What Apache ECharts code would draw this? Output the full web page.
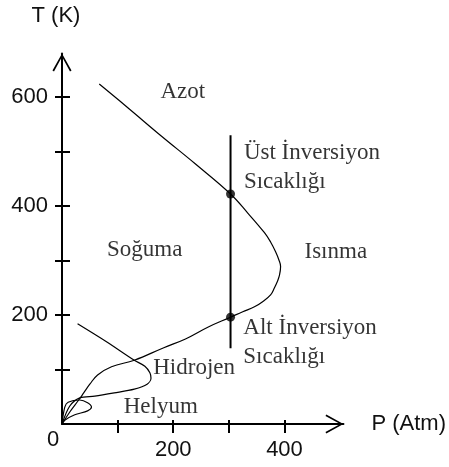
<!DOCTYPE html>
<html>
<head>
<meta charset="utf-8">
<script src="https://cdn.jsdelivr.net/npm/echarts@6/dist/echarts.min.js"></script>
<style>
  html, body { margin: 0; padding: 0; background: #fff; }
  #chart { width: 449px; height: 467px; }
</style>
</head>
<body>
<div id="chart"></div>
<script>
// Joule-Thomson inversion curves: pressure P (Atm) against temperature T (K)

// Nitrogen (Azot)
const nitrogenP = [67, 121, 179, 240, 303, 334, 364, 375, 384, 390, 393, 391, 387, 382, 375, 360, 346, 325, 303, 263, 222, 183, 130, 89, 64, 50, 39, 30, 14, 0];
const nitrogenT = [624, 578, 528, 477, 422, 387, 351, 334, 316, 301, 289, 273, 261, 250, 237, 224, 215, 206, 196, 178, 156, 140, 117, 105, 90, 73, 57, 44, 22, 0];

// Hydrogen (Hidrojen)
const hydrogenP = [28, 80, 130, 149, 158, 160, 153, 130, 94, 59, 32, 14, 0];
const hydrogenT = [184, 151, 117, 106, 94, 84, 73, 64, 57, 51, 48, 33, 0];

// Helium (Helyum)
const heliumP = [0, 5, 11, 32, 46, 53, 46, 23, 5, 0];
const heliumT = [0, 31, 40, 44, 39, 31, 24, 17, 7, 0];

// Isobar at constant pressure and its two inversion temperatures on the nitrogen curve
const isobarP = [303, 303];
const isobarT = [139, 530];
const inversionP = [303, 303];
const inversionT = [422, 196];

// Axis ranges and ticks
const pMax = 506;
const tMax = 680;
const pTicks = [100, 200, 300, 400];
const pLabels = [0, 200, 400];
const tTicks = [100, 200, 300, 400, 500, 600];
const tLabels = [200, 400, 600];

// Region and curve names, anchored in data space (P, T)
const noteText = ['Azot', 'Soğuma', 'Isınma', 'Üst İnversiyon\nSıcaklığı', 'Alt İnversiyon\nSıcaklığı', 'Hidrojen', 'Helyum'];
const noteP = [177, 81, 436, 327, 326, 164, 111];
const noteT = [609, 319, 316, 471, 150, 103, 31];

const zip = (xs, ys) => xs.map((x, i) => [x, ys[i]]);

const sans = 'Liberation Sans';
const serif = 'Liberation Serif';
const ink = '#111';
// open chevron arrow head, pointing up before the axis rotates it
const chevron = 'path://M0,18 L10,0 L20,18 L18.4,18.9 L10,3.4 L1.6,18.9 Z';

const curveLine = { color: '#000', width: 1.2 };

const chart = echarts.init(document.getElementById('chart'), null, { renderer: 'canvas' });

chart.setOption({
  animation: false,
  backgroundColor: '#fff',
  grid: { left: 62, right: 102, top: 53.4, bottom: 43, containLabel: false },
  xAxis: [
    {
      type: 'value', min: 0, max: pMax, position: 'bottom',
      axisLine: {
        show: true, onZero: false,
        symbol: ['none', chevron], symbolSize: [20, 18], symbolOffset: [0, -9],
        lineStyle: { color: '#000', width: 2 }
      },
      axisTick: { show: true, customValues: pTicks, length: 9, lineStyle: { color: '#000', width: 2 } },
      axisLabel: {
        customValues: pLabels, margin: 26, verticalAlign: 'middle',
        fontFamily: sans, fontSize: 22, color: ink,
        formatter: v => (v === 0 ? '{o|0}' : String(v)),
        rich: { o: { fontFamily: sans, fontSize: 22, color: ink, padding: [0, 18, 20, 0] } }
      },
      splitLine: { show: false },
      name: 'P (Atm)', nameLocation: 'end', nameGap: 28,
      nameTextStyle: { fontFamily: sans, fontSize: 22, color: ink }
    },
    {
      type: 'value', min: 0, max: pMax, position: 'bottom',
      axisLine: { show: false, onZero: false },
      axisTick: { show: true, inside: true, customValues: pTicks, length: 4, lineStyle: { color: '#000', width: 2 } },
      axisLabel: { show: false },
      splitLine: { show: false }
    }
  ],
  yAxis: [
    {
      type: 'value', min: 0, max: tMax, position: 'left',
      axisLine: {
        show: true, onZero: false,
        symbol: ['none', chevron], symbolSize: [20, 18], symbolOffset: [0, -9],
        lineStyle: { color: '#000', width: 2 }
      },
      axisTick: { show: true, customValues: tTicks, length: 7, lineStyle: { color: '#000', width: 2 } },
      axisLabel: { customValues: tLabels, margin: 14, fontFamily: sans, fontSize: 22, color: ink },
      splitLine: { show: false },
      name: 'T (K)', nameLocation: 'end', nameGap: 26,
      nameTextStyle: { fontFamily: sans, fontSize: 22, color: ink, padding: [0, 12, 0, 0] }
    },
    {
      type: 'value', min: 0, max: tMax, position: 'left',
      axisLine: { show: false, onZero: false },
      axisTick: { show: true, inside: true, customValues: tTicks, length: 8, lineStyle: { color: '#000', width: 2 } },
      axisLabel: { show: false },
      splitLine: { show: false }
    }
  ],
  series: [
    {
      name: 'Azot', type: 'line', data: zip(nitrogenP, nitrogenT),
      smooth: 0.4, showSymbol: false, lineStyle: curveLine, silent: true
    },
    {
      name: 'Hidrojen', type: 'line', data: zip(hydrogenP, hydrogenT),
      smooth: 0.3, showSymbol: false, lineStyle: curveLine, silent: true
    },
    {
      name: 'Helyum', type: 'line', data: zip(heliumP, heliumT),
      smooth: 0.3, showSymbol: false, lineStyle: curveLine, silent: true
    },
    {
      name: 'isobar', type: 'line', data: zip(isobarP, isobarT),
      showSymbol: false, lineStyle: { color: '#000', width: 2 }, silent: true
    },
    {
      name: 'inversion', type: 'scatter', data: zip(inversionP, inversionT),
      symbol: 'circle', symbolSize: 9, itemStyle: { color: '#000' }, silent: true, z: 5
    },
    {
      name: 'notes', type: 'scatter', symbolSize: 0, silent: true, clip: false,
      data: noteText.map((t, i) => ({ name: t, value: [noteP[i], noteT[i]] })),
      label: {
        show: true, position: 'right', distance: 0,
        formatter: p => p.name,
        fontFamily: serif, fontSize: 23, lineHeight: 29, color: '#000', align: 'left'
      }
    }
  ]
});
</script>
</body>
</html>
